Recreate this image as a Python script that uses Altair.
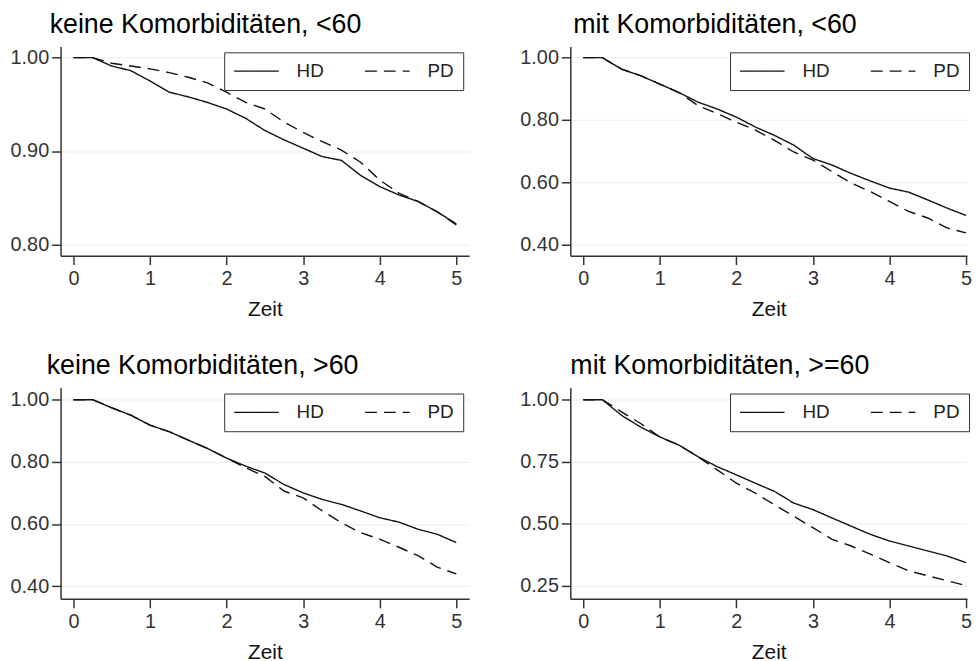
import altair as alt
import pandas as pd

# ---- data (Kaplan-Meier survival estimates) ----
zeit = [0, 0.25, 0.5, 0.75, 1, 1.25, 1.5, 1.75, 2, 2.25, 2.5, 2.75,
        3, 3.25, 3.5, 3.75, 4, 4.25, 4.5, 4.75, 5]

groups = ["HD", "PD"]

titles = ["keine Komorbiditäten, <60", "mit Komorbiditäten, <60",
          "keine Komorbiditäten, >60", "mit Komorbiditäten, >=60"]

hd_1 = [1, 1, 0.991, 0.986, 0.975, 0.963, 0.958, 0.952, 0.945, 0.935, 0.922,
        0.912, 0.903, 0.894, 0.890, 0.874, 0.862, 0.853, 0.846, 0.835, 0.822]
pd_1 = [1, 1, 0.994, 0.991, 0.988, 0.984, 0.979, 0.973, 0.963, 0.952, 0.945,
        0.931, 0.920, 0.910, 0.901, 0.888, 0.869, 0.855, 0.846, 0.835, 0.821]

hd_2 = [1, 1, 0.963, 0.942, 0.915, 0.888, 0.857, 0.835, 0.809, 0.777, 0.750,
        0.719, 0.676, 0.655, 0.628, 0.604, 0.581, 0.568, 0.543, 0.517, 0.493]
pd_2 = [1, 1, 0.963, 0.942, 0.915, 0.888, 0.846, 0.820, 0.793, 0.767, 0.734,
        0.697, 0.671, 0.634, 0.597, 0.570, 0.538, 0.506, 0.485, 0.453, 0.437]

hd_3 = [1, 1, 0.974, 0.950, 0.918, 0.897, 0.870, 0.843, 0.812, 0.786, 0.764,
        0.727, 0.700, 0.679, 0.663, 0.642, 0.620, 0.606, 0.583, 0.567, 0.540]
pd_3 = [1, 1, 0.974, 0.950, 0.918, 0.897, 0.870, 0.843, 0.812, 0.781, 0.753,
        0.706, 0.684, 0.642, 0.604, 0.572, 0.551, 0.525, 0.498, 0.461, 0.439]

hd_4 = [1, 1, 0.937, 0.890, 0.850, 0.817, 0.770, 0.730, 0.697, 0.663, 0.630,
        0.583, 0.557, 0.523, 0.490, 0.457, 0.430, 0.410, 0.390, 0.370, 0.343]
pd_4 = [1, 1, 0.951, 0.904, 0.850, 0.817, 0.770, 0.717, 0.664, 0.623, 0.576,
        0.530, 0.484, 0.437, 0.410, 0.377, 0.343, 0.310, 0.290, 0.270, 0.250]

x_ticks = [0, 1, 2, 3, 4, 5]
y_ticks_1 = [0.80, 0.90, 1.00]
y_ticks_2 = [0.40, 0.60, 0.80, 1.00]
y_ticks_3 = [0.40, 0.60, 0.80, 1.00]
y_ticks_4 = [0.25, 0.50, 0.75, 1.00]

FONT = "Liberation Sans, Arial, Helvetica, sans-serif"


def panel(title, hd, pdv, ydom, yticks, xdom, width, height, dx, lx):
    n = len(zeit)
    df = pd.DataFrame({
        "Zeit": zeit + zeit,
        "S": hd + pdv,
        "Gruppe": [groups[0]] * n + [groups[1]] * n,
    })
    return alt.Chart(
        df,
        title=alt.TitleParams(title, anchor="start", frame="group", dx=dx,
                              fontSize=27, font=FONT, fontWeight="normal",
                              color="#000000", offset=8),
    ).mark_line(color="#111111", strokeWidth=1.4, clip=True).encode(
        x=alt.X("Zeit:Q",
                scale=alt.Scale(domain=xdom, nice=False, zero=False),
                axis=alt.Axis(values=x_ticks, format="d", title="Zeit",
                              grid=False, labelPadding=4, titlePadding=10)),
        y=alt.Y("S:Q",
                scale=alt.Scale(domain=ydom, nice=False, zero=False),
                axis=alt.Axis(values=yticks, format=".2f", title=None,
                              grid=True, labelPadding=3, minExtent=53)),
        strokeDash=alt.StrokeDash(
            "Gruppe:N",
            scale=alt.Scale(domain=groups, range=[[1, 0], [12, 7]]),
            legend=alt.Legend(
                title=None, orient="none", legendX=lx, legendY=6,
                direction="horizontal", clipHeight=20,
                padding=9, fillColor="#ffffff",
                strokeColor="#333333", symbolType="stroke",
                symbolSize=2025, symbolStrokeWidth=1.3,
                symbolStrokeColor="#111111", labelFontSize=19,
                labelFont=FONT, labelColor="#222222", labelOffset=17,
                columnPadding=40,
            ),
        ),
    ).properties(width=width, height=height)


p1 = panel(titles[0], hd_1, pd_1, [0.788, 1.012], y_ticks_1, [-0.168, 5.168], 412, 211, -11, 165)
p2 = panel(titles[1], hd_2, pd_2, [0.364, 1.036], y_ticks_2, [-0.168, 5.013], 400, 211, 3, 161)
p3 = panel(titles[2], hd_3, pd_3, [0.359, 1.039], y_ticks_3, [-0.168, 5.168], 412, 213, -14, 165)
p4 = panel(titles[3], hd_4, pd_4, [0.197, 1.049], y_ticks_4, [-0.168, 5.013], 400, 213, 0, 161)

row1 = alt.hconcat(p1, p2, spacing=49).resolve_scale(strokeDash="independent").resolve_legend(strokeDash="independent")
row2 = alt.hconcat(p3, p4, spacing=49).resolve_scale(strokeDash="independent").resolve_legend(strokeDash="independent")

chart = alt.vconcat(row1, row2, spacing=33).resolve_scale(
    strokeDash="independent").resolve_legend(strokeDash="independent").properties(
    padding=0, background="#ffffff"
).configure_view(stroke=None).configure_axis(
    domainColor="#333333", domainWidth=1.5, tickColor="#333333", tickWidth=1.5,
    tickSize=9, labelFont=FONT, labelFontSize=20, labelColor="#333333",
    titleFont=FONT, titleFontSize=21, titleColor="#111111",
    titleFontWeight="normal", gridColor="#ebebeb", gridWidth=1,
)

chart.save("out.html", embed_options={"renderer": "svg", "actions": False})
